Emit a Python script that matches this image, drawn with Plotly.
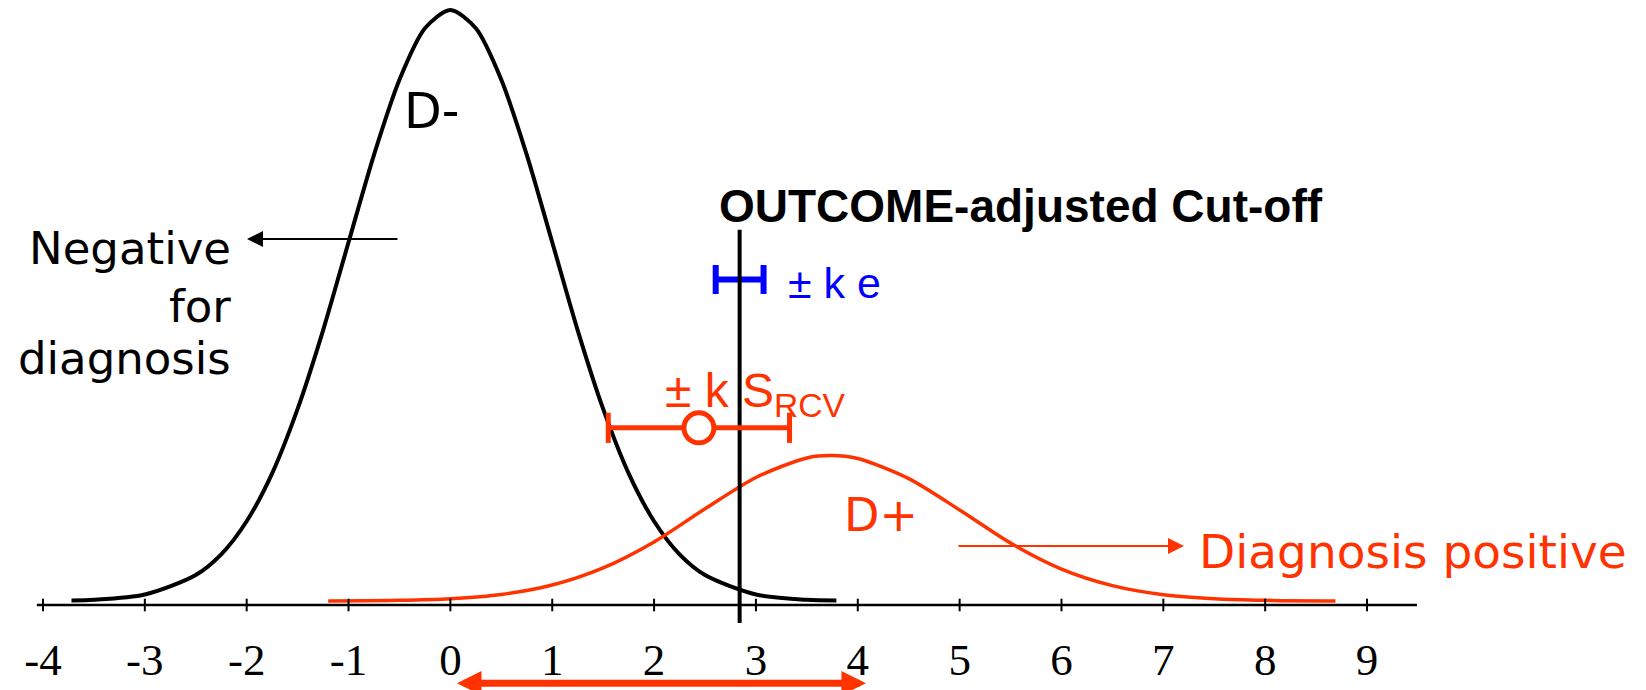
import plotly.graph_objects as go

# D- (non-diseased) distribution, peak scaled to 100
neg_x = [-3.72, -3.5, -3.0, -2.5, -2.25, -2.0, -1.75, -1.5, -1.25, -1.0, -0.75, -0.5, -0.25,
         0.0, 0.25, 0.5, 0.75, 1.0, 1.25, 1.5, 1.75, 2.0, 2.25, 2.5, 3.0, 3.5, 3.79]
neg_y = [0.1, 0.2, 1.1, 4.4, 7.9, 13.5, 21.6, 32.5, 45.8, 60.7, 75.5, 88.2, 96.9,
         100.0, 96.9, 88.2, 75.5, 60.7, 45.8, 32.5, 21.6, 13.5, 7.9, 4.4, 1.1, 0.2, 0.1]

# D+ (diseased) distribution on the same scale
pos_x = [-1.2, -0.5, 0.0, 0.5, 1.0, 1.5, 2.0, 2.5, 3.0, 3.5, 3.74, 4.0, 4.5, 5.0, 5.5,
         6.0, 6.5, 7.0, 7.5, 8.0, 8.69]
pos_y = [0.02, 0.12, 0.39, 1.1, 2.7, 5.6, 10.0, 15.6, 20.9, 24.2, 24.6, 24.1, 20.7, 15.4, 9.8,
         5.4, 2.6, 1.06, 0.38, 0.11, 0.02]

tick_vals = [-4, -3, -2, -1, 0, 1, 2, 3, 4, 5, 6, 7, 8, 9]
tick_text = ["-4", "-3", "-2", "-1", "0", "1", "2", "3", "4", "5", "6", "7", "8", "9"]

cutoff = 2.84          # outcome-adjusted cut-off
ke_half = 0.235        # ± k e around the cut-off
result_value = 2.44    # patient result
srcv_half = 0.89       # ± k S_RCV around the result
axis_span = [-4.06, 9.49]
gap_span = [0.05, 4.08]  # double arrow under the axis

RED = "#FF3300"
BLUE = "#0000FF"
BLACK = "#000000"

# vertical levels (data units, 100 = D- peak)
AXIS_Y = -0.68
KE_Y = 54.4
SRCV_Y = 29.3
CAP_KE = 2.45
CAP_SRCV = 2.55
CUT_TOP, CUT_BOTTOM = 62.8, -3.72
LABEL_Y = -10.58
GAP_Y = -13.9

fig = go.Figure()

# distributions
fig.add_trace(go.Scatter(x=neg_x, y=neg_y, mode="lines",
                         line=dict(color=BLACK, width=4, shape="spline", smoothing=0.8)))
fig.add_trace(go.Scatter(x=pos_x, y=pos_y, mode="lines",
                         line=dict(color=RED, width=3.5, shape="spline", smoothing=0.8)))

# x axis line, ticks and labels
fig.add_trace(go.Scatter(x=axis_span, y=[AXIS_Y, AXIS_Y], mode="lines",
                         line=dict(color=BLACK, width=2.5)))
fig.add_trace(go.Scatter(x=tick_vals, y=[AXIS_Y] * len(tick_vals), mode="markers",
                         marker=dict(symbol="line-ns-open", size=9, color=BLACK,
                                     line=dict(color=BLACK, width=2))))
fig.add_trace(go.Scatter(x=tick_vals, y=[LABEL_Y] * len(tick_vals), mode="text",
                         text=tick_text, textposition="middle center",
                         textfont=dict(family="Liberation Serif", size=45, color=BLACK)))

# ± k e interval around the cut-off
ke_lo, ke_hi = cutoff - ke_half, cutoff + ke_half
fig.add_trace(go.Scatter(x=[ke_lo, ke_hi], y=[KE_Y, KE_Y], mode="lines",
                         line=dict(color=BLUE, width=6)))
fig.add_trace(go.Scatter(x=[ke_lo, ke_lo, None, ke_hi, ke_hi],
                         y=[KE_Y - CAP_KE, KE_Y + CAP_KE, None, KE_Y - CAP_KE, KE_Y + CAP_KE],
                         mode="lines", line=dict(color=BLUE, width=6)))

# cut-off line
fig.add_trace(go.Scatter(x=[cutoff, cutoff], y=[CUT_BOTTOM, CUT_TOP], mode="lines",
                         line=dict(color=BLACK, width=4)))

# ± k S_RCV interval around the result
rv_lo, rv_hi = result_value - srcv_half, result_value + srcv_half
fig.add_trace(go.Scatter(x=[rv_lo, rv_hi], y=[SRCV_Y, SRCV_Y], mode="lines",
                         line=dict(color=RED, width=5)))
fig.add_trace(go.Scatter(x=[rv_lo, rv_lo, None, rv_hi, rv_hi],
                         y=[SRCV_Y - CAP_SRCV, SRCV_Y + CAP_SRCV, None,
                            SRCV_Y - CAP_SRCV, SRCV_Y + CAP_SRCV],
                         mode="lines", line=dict(color=RED, width=5)))
fig.add_trace(go.Scatter(x=[result_value], y=[SRCV_Y], mode="markers",
                         marker=dict(symbol="circle", size=30, color="white",
                                     line=dict(color=RED, width=5))))

sans = "DejaVu Sans"
arial = "Liberation Sans"
annotations = [
    dict(x=2.618, y=66.8, text="<b>OUTCOME-adjusted Cut-off</b>", xanchor="left",
         font=dict(family=arial, size=46, color=BLACK)),
    dict(x=3.295, y=53.8, text="±&nbsp;k&nbsp;e", xanchor="left",
         font=dict(family=arial, size=43, color=BLUE)),
    dict(x=2.087, y=35.0, text="±&nbsp;k&nbsp;S<sub>RCV</sub>", xanchor="left",
         font=dict(family=arial, size=48, color=RED)),
    dict(x=-0.475, y=82.8, text="D-", xanchor="left",
         font=dict(family=sans, size=49, color=BLACK)),
    dict(x=3.845, y=14.5, text="D+", xanchor="left",
         font=dict(family=sans, size=46, color=RED)),
    dict(x=7.33, y=8.3, text="Diagnosis positive", xanchor="left",
         font=dict(family=sans, size=47, color=RED)),
    dict(x=-2.135, y=59.7, text="Negative", xanchor="right",
         font=dict(family=sans, size=45, color=BLACK)),
    dict(x=-2.135, y=49.9, text="for", xanchor="right",
         font=dict(family=sans, size=45, color=BLACK)),
    dict(x=-2.135, y=41.0, text="diagnosis", xanchor="right",
         font=dict(family=sans, size=45, color=BLACK)),
]
for a in annotations:
    a.update(xref="x", yref="y", yanchor="middle", showarrow=False)

# pointer arrows
annotations += [
    dict(x=-1.997, y=61.25, ax=-0.505, ay=61.25, xref="x", yref="y", axref="x", ayref="y",
         text="", showarrow=True, arrowhead=2, arrowsize=1.6, arrowwidth=2, arrowcolor=BLACK),
    dict(x=7.203, y=9.3, ax=4.974, ay=9.3, xref="x", yref="y", axref="x", ayref="y",
         text="", showarrow=True, arrowhead=2, arrowsize=1.6, arrowwidth=2, arrowcolor=RED),
    dict(x=gap_span[1], y=GAP_Y, ax=gap_span[0], ay=GAP_Y, xref="x", yref="y",
         axref="x", ayref="y", text="", showarrow=True, arrowside="end+start",
         arrowhead=2, startarrowhead=2, arrowsize=0.7, startarrowsize=0.7,
         arrowwidth=7, arrowcolor=RED),
]

fig.update_layout(
    width=1646, height=690,
    margin=dict(l=0, r=0, t=0, b=0),
    paper_bgcolor="white", plot_bgcolor="white",
    showlegend=False,
    xaxis=dict(range=[-4.422, 11.739], visible=False, fixedrange=True),
    yaxis=dict(range=[-15.06, 101.69], visible=False, fixedrange=True),
    annotations=annotations,
    hovermode=False,
)

fig.write_html("out.html", config={"displayModeBar": False})
